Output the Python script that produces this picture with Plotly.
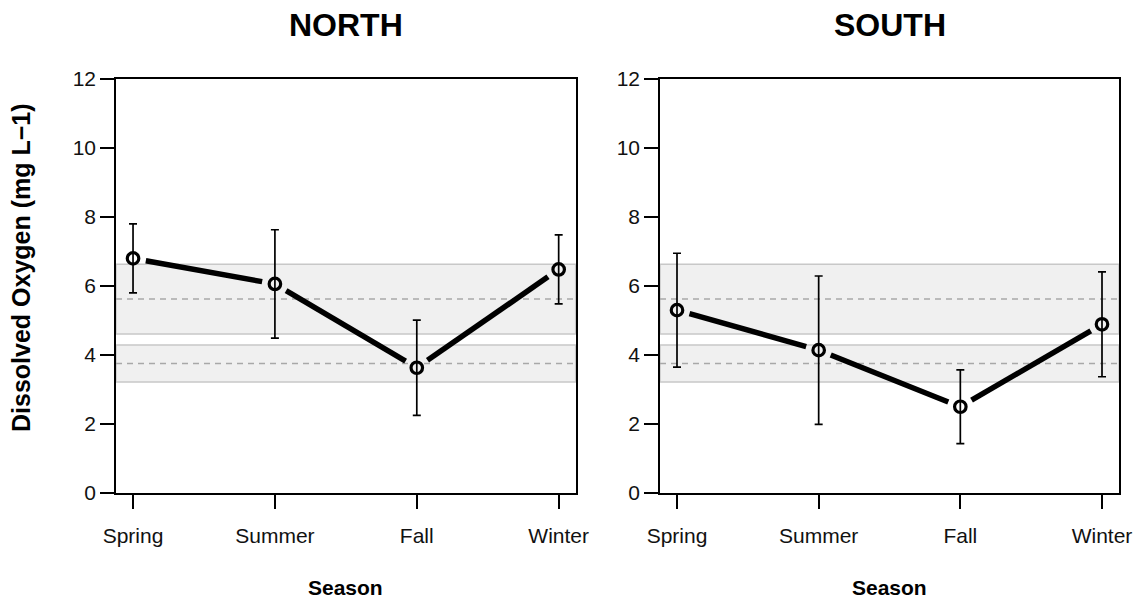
import math
import plotly.graph_objects as go

# Seasonal dissolved oxygen, mean ± error, at two sites
seasons = ["Spring", "Summer", "Fall", "Winter"]
north_mean = [6.80, 6.06, 3.63, 6.48]
north_err = [1.00, 1.57, 1.38, 1.00]
south_mean = [5.30, 4.14, 2.50, 4.89]
south_err = [1.65, 2.15, 1.07, 1.52]

# Reference bands: (centre, half-width)
bands = [(5.62, 1.01), (3.755, 0.535)]

y_ticks = [0, 2, 4, 6, 8, 10, 12]

W, H = 1139, 600
FONT = "Liberation Sans, Arial, sans-serif"

x_range = [0.88, 4.12]
y_range = [0, 12]
dom_x1 = [116 / W, 575.7 / W]
dom_x2 = [660 / W, 1119 / W]
dom_y = [1 - 493 / H, 1 - 79 / H]

px_per_x = (dom_x1[1] - dom_x1[0]) * W / (x_range[1] - x_range[0])
px_per_y = (dom_y[1] - dom_y[0]) * H / (y_range[1] - y_range[0])


def gapped_path(xs, ys, gap=13.0):
    """Connect points with segments that stop short of each marker."""
    out_x, out_y = [], []
    for i in range(len(xs) - 1):
        dx = (xs[i + 1] - xs[i]) * px_per_x
        dy = (ys[i + 1] - ys[i]) * px_per_y
        length = math.hypot(dx, dy)
        ux, uy = dx / length, dy / length
        out_x += [xs[i] + ux * gap / px_per_x, xs[i + 1] - ux * gap / px_per_x, None]
        out_y += [ys[i] + uy * gap / px_per_y, ys[i + 1] - uy * gap / px_per_y, None]
    return out_x, out_y


fig = go.Figure()
xpos = list(range(1, len(seasons) + 1))

for idx, (means, errs) in enumerate([(north_mean, north_err), (south_mean, south_err)], start=1):
    xa = "x" if idx == 1 else "x2"
    ya = "y" if idx == 1 else "y2"
    lx, ly = gapped_path(xpos, means)
    fig.add_trace(go.Scatter(
        x=lx, y=ly, mode="lines", xaxis=xa, yaxis=ya,
        line=dict(color="black", width=5.5), showlegend=False, hoverinfo="skip"))
    fig.add_trace(go.Scatter(
        x=xpos, y=means, mode="markers", xaxis=xa, yaxis=ya,
        marker=dict(symbol="circle-open", size=11.5, color="black", line=dict(width=3.2)),
        error_y=dict(type="data", array=errs, color="black", thickness=1.7, width=4),
        showlegend=False))

    # shaded reference bands with dashed centre lines
    for centre, half in bands:
        fig.add_shape(type="rect", xref=f"{xa} domain", yref=ya, x0=0, x1=1,
                      y0=centre - half, y1=centre + half, layer="below",
                      fillcolor="#f0f0f0", line=dict(color="#c8c8c8", width=1.5))
        fig.add_shape(type="line", xref=f"{xa} domain", yref=ya, x0=0, x1=1,
                      y0=centre, y1=centre, layer="below",
                      line=dict(color="#a8a8a8", width=1.5, dash="6px,5px"))

axis_common = dict(showline=True, mirror=True, linecolor="black", linewidth=1.6,
                   ticks="outside", ticklen=14, tickwidth=1.6, tickcolor="black",
                   showgrid=False, zeroline=False, automargin=False,
                   tickfont=dict(family=FONT, size=21, color="#111111"))
x_extra = dict(tickvals=xpos, ticktext=seasons, ticklabelstandoff=9)

fig.update_layout(
    width=W, height=H, margin=dict(l=0, r=0, t=0, b=0, autoexpand=False),
    plot_bgcolor="white", paper_bgcolor="white", showlegend=False,
    xaxis=dict(domain=dom_x1, range=x_range, anchor="y", **x_extra, **axis_common),
    xaxis2=dict(domain=dom_x2, range=x_range, anchor="y2", **x_extra, **axis_common),
    yaxis=dict(domain=dom_y, range=y_range, tickvals=y_ticks, anchor="x", **axis_common),
    yaxis2=dict(domain=dom_y, range=y_range, tickvals=y_ticks, anchor="x2", **axis_common),
)

annotations = [
    dict(text="<b>NORTH</b>", x=sum(dom_x1) / 2, y=1 - 25 / H, font=dict(size=32)),
    dict(text="<b>SOUTH</b>", x=sum(dom_x2) / 2, y=1 - 25 / H, font=dict(size=32)),
    dict(text="<b>Season</b>", x=sum(dom_x1) / 2, y=1 - 587 / H, font=dict(size=21)),
    dict(text="<b>Season</b>", x=sum(dom_x2) / 2, y=1 - 587 / H, font=dict(size=21)),
    dict(text="<b>Dissolved Oxygen (mg L\u22121)</b>", x=21 / W, y=1 - 268 / H,
         textangle=-90, font=dict(size=25)),
]
for a in annotations:
    a.update(xref="paper", yref="paper", showarrow=False, xanchor="center", yanchor="middle")
    a["font"].update(family=FONT, color="black")
fig.update_layout(annotations=annotations)

fig.write_html("out.html")
